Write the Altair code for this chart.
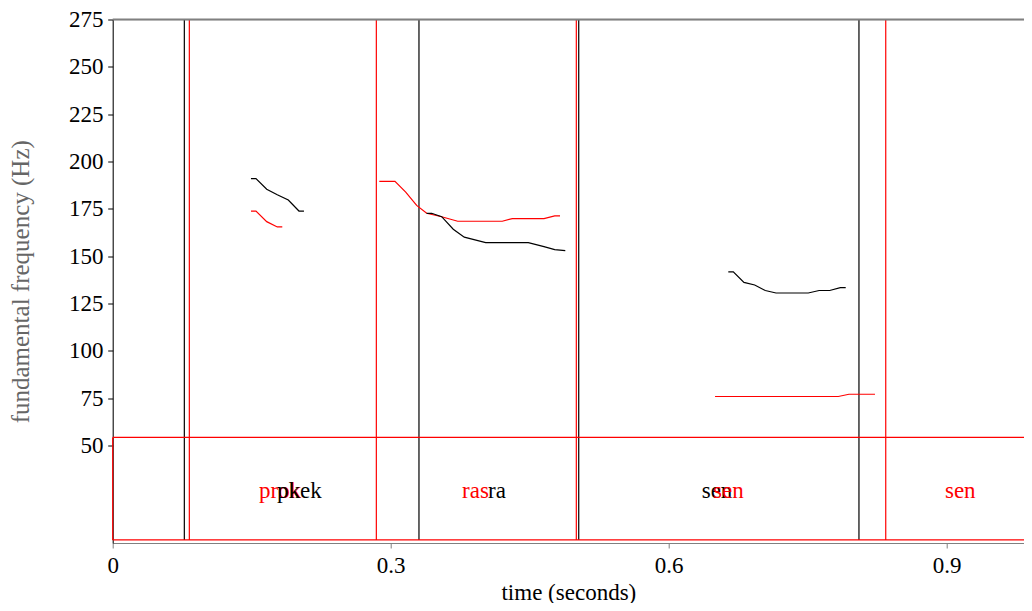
import altair as alt
import pandas as pd

# ---- axis extents ----
x_end = 0.9834
y_min, y_max = -1.6, 275
x_ticks = [0, 0.3, 0.6, 0.9]
y_ticks = [50, 75, 100, 125, 150, 175, 200, 225, 250, 275]

# ---- segment boundaries (seconds) ----
black_bounds = [0.0773, 0.3305, 0.5029, 0.8053]
red_bounds = [0.0827, 0.2845, 0.5003, 0.8342]
tier_top = 54.2
tier_bottom = 0.0

# ---- pitch tracks ----
black1_t = [0.1492, 0.1546, 0.1662, 0.1776, 0.1895, 0.2010, 0.2064]
black1_f = [190.9, 190.9, 185.3, 182.4, 179.6, 173.8, 173.8]
red1_t = [0.1492, 0.1546, 0.1662, 0.1776, 0.1830]
red1_f = [173.8, 173.8, 168.2, 165.4, 165.4]
red2_t = [0.2877, 0.3046, 0.3162, 0.3280, 0.3388, 0.3550, 0.3723, 0.4204, 0.4312, 0.4654, 0.4770, 0.4827]
red2_f = [189.5, 189.5, 183.8, 176.8, 172.6, 170.8, 168.4, 168.4, 169.8, 169.8, 171.2, 171.2]
black2_t = [0.3388, 0.3442, 0.3550, 0.3675, 0.3794, 0.4025, 0.4485, 0.4654, 0.4770, 0.4884]
black2_f = [172.6, 172.6, 170.8, 164.2, 160.0, 157.1, 157.1, 155.0, 153.4, 152.9]
black3_t = [0.6643, 0.6697, 0.6812, 0.6928, 0.7042, 0.7158, 0.7506, 0.7623, 0.7737, 0.7852, 0.7910]
black3_f = [141.7, 141.7, 136.1, 134.7, 131.8, 130.5, 130.5, 131.8, 131.8, 133.3, 133.3]
red3_t = [0.6500, 0.7830, 0.7945, 0.8226]
red3_f = [75.8, 75.8, 77.0, 77.0]

# ---- word labels ----
words = ["prok", "pkek", "ras", "ra", "sen", "sen", "sen"]
word_t = [0.1579, 0.1773, 0.3770, 0.4050, 0.6356, 0.6478, 0.8981]
word_colors = ["#ff0000", "#000000", "#ff0000", "#000000", "#000000", "#ff0000", "#ff0000"]
word_f = 22.1

RED = "#ff0000"
BLACK = "#000000"
GRAY = "#808080"

# ---- build tables ----
tracks = [
    ("b1", BLACK, black1_t, black1_f),
    ("r1", RED, red1_t, red1_f),
    ("r2", RED, red2_t, red2_f),
    ("b2", BLACK, black2_t, black2_f),
    ("b3", BLACK, black3_t, black3_f),
    ("r3", RED, red3_t, red3_f),
]
rows = []
for seg, col, ts, fs in tracks:
    for t, f in zip(ts, fs):
        rows.append({"t": t, "f": f, "seg": seg, "color": col})
lines_df = pd.DataFrame(rows)

vrows = [{"t": t, "f": tier_bottom, "f2": y_max, "color": BLACK} for t in black_bounds]
vrows += [{"t": t, "f": tier_bottom, "f2": y_max, "color": RED} for t in red_bounds]
vrows += [{"t": 0.0, "f": tier_bottom, "f2": tier_top, "color": RED}]
vrules_df = pd.DataFrame(vrows)

hrules_df = pd.DataFrame([
    {"t": 0.0, "t2": x_end, "f": tier_top},
    {"t": 0.0, "t2": x_end, "f": tier_bottom},
])
top_df = pd.DataFrame([{"t": 0.0, "t2": x_end, "f": y_max}])

text_df = pd.DataFrame({"t": word_t, "f": [word_f] * len(words), "word": words, "color": word_colors})

FONT = "Liberation Serif"
xscale = alt.Scale(domain=[0, x_end], nice=False, zero=False)
yscale = alt.Scale(domain=[y_min, y_max], nice=False, zero=False)
xaxis = alt.Axis(values=x_ticks, format=".1~f", title="time (seconds)", grid=False,
                 domainColor=GRAY, tickColor=GRAY, tickSize=5, labelPadding=6,
                 labelFont=FONT, labelFontSize=23, labelColor=BLACK, labelFlush=False,
                 titleFont=FONT, titleFontSize=23, titleFontWeight="normal", titleColor=BLACK,
                 titlePadding=4)
yaxis = alt.Axis(values=y_ticks, title="fundamental frequency (Hz)", grid=False,
                 domainColor=BLACK, tickColor=BLACK, tickSize=5, labelPadding=4.7,
                 labelFont=FONT, labelFontSize=23, labelColor=BLACK,
                 titleFont=FONT, titleFontSize=25, titleFontWeight="normal", titleColor="#666666",
                 titlePadding=35)


def X(field="t"):
    return alt.X(f"{field}:Q", scale=xscale, axis=xaxis)


def Y(field="f"):
    return alt.Y(f"{field}:Q", scale=yscale, axis=yaxis)


vrules = alt.Chart(vrules_df).mark_rule(strokeWidth=1.2).encode(
    x=X(), y=Y(), y2="f2:Q", color=alt.Color("color:N", scale=None)
)
hrules = alt.Chart(hrules_df).mark_rule(strokeWidth=1.2, color=RED).encode(
    x=X(), x2="t2:Q", y=Y()
)
top_rule = alt.Chart(top_df).mark_rule(strokeWidth=2, color=GRAY).encode(
    x=X(), x2="t2:Q", y=Y()
)
lines = alt.Chart(lines_df).mark_line(strokeWidth=1.2).encode(
    x=X(), y=Y(), detail="seg:N", color=alt.Color("color:N", scale=None)
)
texts = alt.Chart(text_df).mark_text(font=FONT, fontSize=23, align="left", baseline="alphabetic").encode(
    x=X(), y=Y(), text="word:N", color=alt.Color("color:N", scale=None)
)

chart = alt.layer(vrules, hrules, top_rule, lines, texts).properties(
    width=911.3,
    height=523.5,
    autosize=alt.AutoSizeParams(type="none"),
    padding={"left": 104.7, "top": 11.5, "right": 0, "bottom": 60},
).configure_view(strokeWidth=0).configure(font=FONT, background="white")

chart.save("out.html", embed_options={"renderer": "svg", "actions": False})
